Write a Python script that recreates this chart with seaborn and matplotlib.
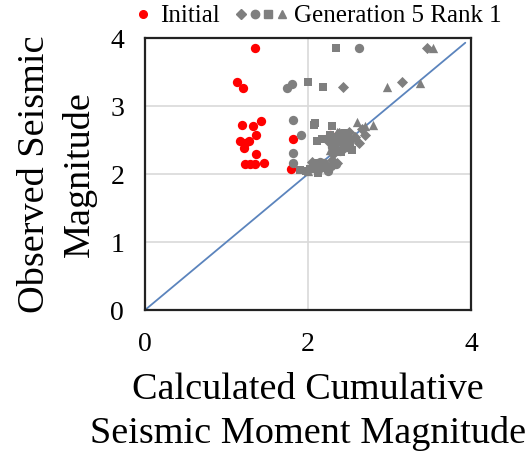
import matplotlib
matplotlib.use("Agg")
import matplotlib.pyplot as plt
from matplotlib.lines import Line2D
from matplotlib.legend_handler import HandlerTuple, HandlerLine2D
import seaborn as sns
import pandas as pd

# Initial population
initial_x = [1.35, 1.13, 1.20, 1.19, 1.33, 1.42, 1.36, 1.17, 1.23, 1.27, 1.21, 1.36,
             1.23, 1.29, 1.35, 1.46, 1.82, 1.79, 2.27]
initial_y = [3.85, 3.35, 3.26, 2.72, 2.70, 2.78, 2.57, 2.49, 2.45, 2.48, 2.38, 2.30,
             2.15, 2.15, 2.15, 2.16, 2.52, 2.07, 2.57]

# Generation 5, rank-1 solutions (one list pair per marker shape)
diamond_x = [3.46, 2.43, 3.15, 2.70, 2.66, 2.50, 2.38, 2.25, 2.58, 2.62, 2.05, 2.22,
             2.35, 2.30, 2.44, 2.53, 2.31, 2.18]
diamond_y = [3.85, 3.28, 3.36, 2.57, 2.66, 2.62, 2.60, 2.48, 2.55, 2.46, 2.18, 2.08,
             2.16, 2.20, 2.38, 2.50, 2.30, 2.12]

circle_x = [2.63, 1.74, 1.80, 1.82, 1.92, 1.82, 1.82, 2.36, 2.42, 2.30, 2.45, 2.05,
            2.10, 2.15, 2.20, 2.28, 2.50, 2.26, 2.39, 2.12, 2.24, 2.34]
circle_y = [3.85, 3.26, 3.32, 2.79, 2.57, 2.31, 2.16, 2.50, 2.45, 2.40, 2.55, 2.10,
            2.14, 2.18, 2.16, 2.12, 2.43, 2.52, 2.34, 2.06, 2.04, 2.14]

square_x = [2.34, 2.00, 2.18, 1.90, 2.07, 2.09, 2.29, 2.11, 2.17, 2.54, 2.27, 2.33,
            2.40, 2.48, 1.98, 2.03, 2.12, 2.37, 2.46, 2.08]
square_y = [3.85, 3.35, 3.28, 2.06, 2.72, 2.75, 2.71, 2.48, 2.51, 2.35, 2.58, 2.38,
            2.33, 2.42, 2.04, 2.08, 2.02, 2.55, 2.60, 2.16]

triangle_x = [3.53, 2.97, 3.37, 2.60, 2.70, 2.80, 2.52, 2.44, 2.35, 2.27, 2.15, 2.00,
              2.56, 2.30]
triangle_y = [3.85, 3.28, 3.34, 2.77, 2.70, 2.72, 2.40, 2.52, 2.62, 2.35, 2.12, 2.05,
              2.56, 2.46]

ticks = [0, 1, 2, 3, 4]
x_ticks = [0, 2, 4]

sns.set_theme(style="white")
plt.rcParams["font.family"] = ["Liberation Serif", "DejaVu Serif"]
plt.rcParams["text.color"] = "black"
plt.rcParams["axes.labelcolor"] = "black"
plt.rcParams["xtick.color"] = "black"
plt.rcParams["ytick.color"] = "black"

RED = "#ff0000"
GRAY = "#7f7f7f"

frames = []
for name, xs, ys in [("initial", initial_x, initial_y),
                     ("diamond", diamond_x, diamond_y),
                     ("circle", circle_x, circle_y),
                     ("square", square_x, square_y),
                     ("triangle", triangle_x, triangle_y)]:
    frames.append(pd.DataFrame({"calc": xs, "obs": ys, "group": name}))
df = pd.concat(frames, ignore_index=True)

markers = {"initial": "o", "diamond": "D", "circle": "o", "square": "s", "triangle": "^"}
palette = {"initial": RED, "diamond": GRAY, "circle": GRAY, "square": GRAY, "triangle": GRAY}
sizes = {"initial": 45, "diamond": 32, "circle": 45, "square": 38, "triangle": 45}

fig = plt.figure(figsize=(5.30, 4.53), dpi=100)
ax = fig.add_axes([145 / 530, 1 - 310 / 453, 326 / 530, 272 / 453])

# 1:1 reference line
ax.plot([0, 3.93], [0, 3.93], color="#5b84bd", lw=1.3, zorder=1)

for g in ["initial", "diamond", "circle", "square", "triangle"]:
    sub = df[df["group"] == g]
    sns.scatterplot(data=sub, x="calc", y="obs", ax=ax, color=palette[g],
                    marker=markers[g], s=sizes[g], linewidth=0, legend=False, zorder=3)

ax.set_xlim(0, 4)
ax.set_ylim(0, 4)
ax.set_xticks(x_ticks)
ax.set_yticks(ticks)
ax.set_xticklabels([str(t) for t in x_ticks], fontsize=20)
ax.set_yticklabels([str(t) for t in ticks], fontsize=20)
ax.tick_params(axis="x", direction="in", length=5, width=1.2, color="#222222", pad=16)
ax.tick_params(axis="y", length=0, pad=15)

for v in [1, 2, 3]:
    ax.axhline(v, color="#d9d9d9", lw=1.2, zorder=0)
ax.axvline(2, color="#d9d9d9", lw=1.2, zorder=0)

for sp in ax.spines.values():
    sp.set_visible(True)
    sp.set_color("#222222")
    sp.set_linewidth(1.6)

ax.set_xlabel("Calculated Cumulative\nSeismic Moment Magnitude", fontsize=27.5,
              linespacing=1.35, labelpad=11)
ax.set_ylabel("Observed Seismic\nMagnitude", fontsize=27.5, linespacing=1.35, labelpad=10)


class DotAtRight(HandlerLine2D):
    """Place the single legend marker at the right end of its handle box."""

    def create_artists(self, legend, orig_handle, xdescent, ydescent, width, height,
                       fontsize, trans):
        artists = super().create_artists(legend, orig_handle, xdescent, ydescent,
                                         width, height, fontsize, trans)
        xm = width - xdescent - 0.5 * height
        for a in artists:
            a.set_xdata([xm] * len(a.get_xdata()))
        return artists


h_init = Line2D([], [], marker="o", color=RED, ls="", markersize=5.5)
h_gen = (Line2D([], [], marker="D", color=GRAY, ls="", markersize=5),
         Line2D([], [], marker="o", color=GRAY, ls="", markersize=6),
         Line2D([], [], marker="s", color=GRAY, ls="", markersize=5.5),
         Line2D([], [], marker="^", color=GRAY, ls="", markersize=5.5))
fig.legend([h_init, h_gen], ["Initial", "Generation 5 Rank 1"],
           handler_map={tuple: HandlerTuple(ndivide=None, pad=0.3),
                        h_init: DotAtRight()},
           loc="center", bbox_to_anchor=(303 / 530, 1 - 16 / 453), ncol=2,
           frameon=False, fontsize=18, handletextpad=0.35, columnspacing=0.7,
           handlelength=1.9, borderpad=0)

fig.savefig("out.png", dpi=100)
